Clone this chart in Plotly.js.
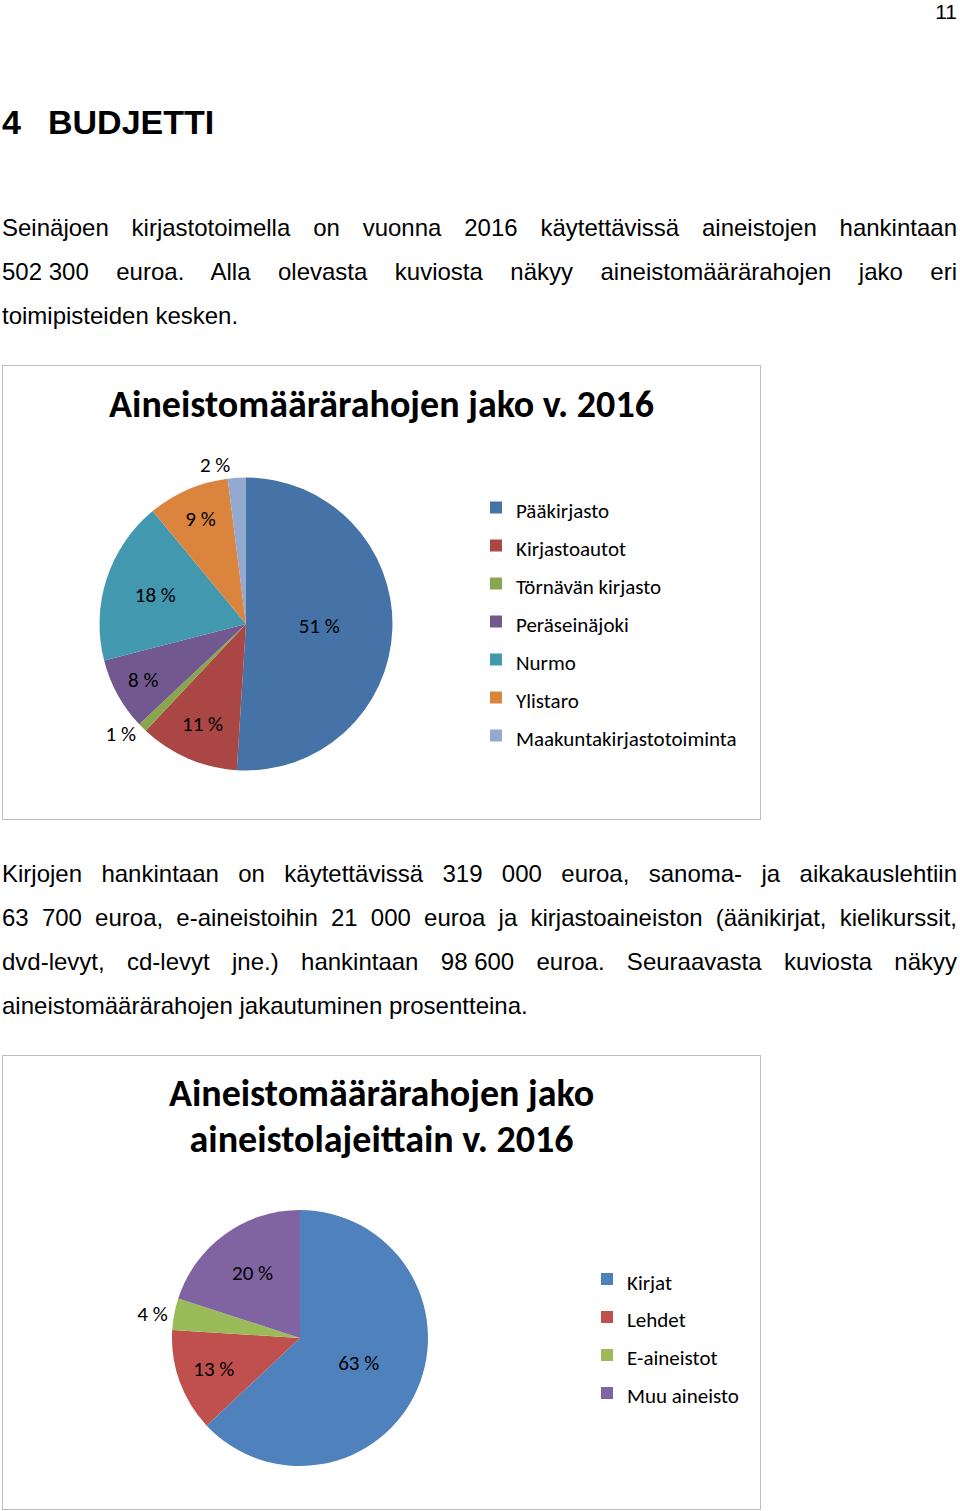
<!DOCTYPE html>
<html>
<head>
<meta charset="utf-8">
<script src="https://cdn.plot.ly/plotly-3.0.1.min.js"></script>
<style>
  html, body { margin: 0; padding: 0; background: #fff; }
  body { width: 960px; height: 1511px; position: relative; overflow: hidden;
         font-family: "Liberation Sans", Arial, sans-serif; color: #000; }
  .pn { position: absolute; right: 3px; top: 0; font-size: 21px; line-height: 24px; }
  .h1 { position: absolute; left: 2px; top: 102px; font-size: 34px; line-height: 40px; font-weight: bold; white-space: nowrap; }
  .h1 .num { display: inline-block; width: 46px; }
  .para { position: absolute; left: 2px; width: 955px; font-size: 24px; }
  .ln { height: 44px; line-height: 44px; white-space: nowrap; }
  .j { text-align: justify; text-align-last: justify; white-space: normal; }
  .nb { display: inline-block; text-align-last: auto; }
  .box { position: absolute; left: 2px; width: 757px; height: 453px; border: 1px solid #bdbdbd; background: #fff; }
</style>
</head>
<body>
<div class="pn">11</div>
<div class="h1"><span class="num">4</span>BUDJETTI</div>

<div class="para" style="top:206px">
  <div class="ln j">Seinäjoen kirjastotoimella on vuonna 2016 käytettävissä aineistojen hankintaan</div>
  <div class="ln j"><span class="nb">502 300</span> euroa. Alla olevasta kuviosta näkyy aineistomäärärahojen jako eri</div>
  <div class="ln">toimipisteiden kesken.</div>
</div>

<div class="box" style="top:365px"><div id="chart1"></div></div>

<div class="para" style="top:852px">
  <div class="ln j">Kirjojen hankintaan on käytettävissä 319 000 euroa, sanoma- ja aikakauslehtiin</div>
  <div class="ln j">63 700 euroa, e-aineistoihin 21 000 euroa ja kirjastoaineiston (äänikirjat, kielikurssit,</div>
  <div class="ln j">dvd-levyt, cd-levyt jne.) hankintaan <span class="nb">98 600</span> euroa. Seuraavasta kuviosta näkyy</div>
  <div class="ln">aineistomäärärahojen jakautuminen prosentteina.</div>
</div>

<div class="box" style="top:1055px"><div id="chart2"></div></div>

<script>
// ---------- data ----------
const title1 = 'Aineistomäärärahojen jako v. 2016';
const labels1 = ['Pääkirjasto', 'Kirjastoautot', 'Törnävän kirjasto', 'Peräseinäjoki', 'Nurmo', 'Ylistaro', 'Maakuntakirjastotoiminta'];
const values1 = [51, 11, 1, 8, 18, 9, 2];
const colors1 = ['#4572A7', '#AA4643', '#89A54E', '#71588F', '#4198AF', '#DB843D', '#93A9CF'];

const title2Lines = ['Aineistomäärärahojen jako', 'aineistolajeittain v. 2016'];
const labels2 = ['Kirjat', 'Lehdet', 'E-aineistot', 'Muu aineisto'];
const values2 = [63, 13, 4, 20];
const colors2 = ['#4F81BD', '#C0504D', '#9BBB59', '#8064A2'];

// ---------- styling ----------
const FONT = 'Carlito, Lato, "Noto Sans", sans-serif';
const LEGEND_TEXT = 21;      // visible legend text size
const LEGEND_ROW = 26.92;    // legend font size used to set row pitch (~38px)
const LABEL_SIZE = 21;
const legendLabel = l => '<span style="font-size:' + LEGEND_TEXT + 'px">' + l + '</span>';
const posFor = vals => vals.map(v => (v < 5 ? 'outside' : 'inside'));

function pieTrace(labels, values, colors, domain) {
  return {
    type: 'pie',
    labels: labels.map(legendLabel),
    values: values,
    sort: false,
    direction: 'clockwise',
    rotation: 0,
    marker: { colors: colors, line: { width: 0 } },
    texttemplate: '%{value} %',
    textposition: posFor(values),
    insidetextorientation: 'horizontal',
    textfont: { family: FONT, size: LABEL_SIZE, color: '#000' },
    outsidetextfont: { family: FONT, size: LABEL_SIZE, color: '#000' },
    domain: domain,
    hoverinfo: 'none'
  };
}

const W = 757, H = 453;
const cfg = { staticPlot: true, displayModeBar: false };

Plotly.newPlot('chart1',
  [pieTrace(labels1, values1, colors1, { x: [0.1275, 0.5145], y: [0.1071, 0.7539] })],
  {
    width: W, height: H,
    margin: { l: 0, r: 0, t: 0, b: 0 },
    paper_bgcolor: '#fff',
    title: {
      text: title1,
      font: { family: FONT, size: 38, color: '#000', weight: 'bold' },
      x: 0.5, xanchor: 'center', xref: 'paper',
      y: 0.916, yanchor: 'middle', yref: 'container'
    },
    showlegend: true,
    legend: {
      x: 0.6248, xanchor: 'left', y: 0.7406, yanchor: 'top',
      font: { family: FONT, size: LEGEND_ROW, color: '#000' },
      bgcolor: 'rgba(0,0,0,0)', borderwidth: 0
    }
  }, cfg);

const TITLE_TEXT = 38;
const TITLE_ROW = 35.4;
Plotly.newPlot('chart2',
  [pieTrace(labels2, values2, colors2, { x: [0.2232, 0.5614], y: [0.0949, 0.6600] })],
  {
    width: W, height: H,
    margin: { l: 0, r: 0, t: 0, b: 0 },
    paper_bgcolor: '#fff',
    title: {
      text: title2Lines.map(t => '<span style="font-size:' + TITLE_TEXT + 'px">' + t + '</span>').join('<br>'),
      font: { family: FONT, size: TITLE_ROW, color: '#000', weight: 'bold' },
      x: 0.5, xanchor: 'center', xref: 'paper',
      y: 0.8896, yanchor: 'middle', yref: 'container'
    },
    showlegend: true,
    legend: {
      x: 0.7715, xanchor: 'left', y: 0.5607, yanchor: 'top',
      font: { family: FONT, size: LEGEND_ROW, color: '#000' },
      bgcolor: 'rgba(0,0,0,0)', borderwidth: 0
    }
  }, cfg);
</script>
</body>
</html>
